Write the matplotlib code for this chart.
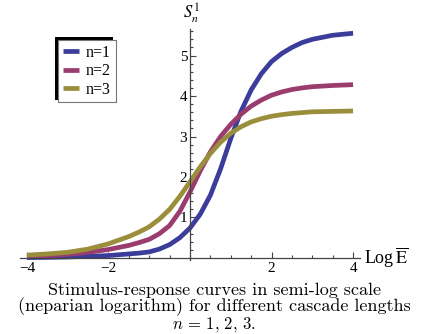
import matplotlib.pyplot as plt
from matplotlib.patches import Rectangle
from matplotlib.ticker import MultipleLocator

plt.rcParams['font.family'] = 'Liberation Serif'
plt.rcParams['mathtext.fontset'] = 'stix'

# log of stimulus (x) and response for cascade lengths n = 1, 2, 3
log_e = [-4, -3.5, -3, -2.5, -2, -1.5, -1.25, -1, -0.75, -0.5, -0.25, 0, 0.25, 0.5,
         0.75, 1, 1.25, 1.5, 1.75, 2, 2.25, 2.5, 2.75, 3, 3.5, 4]
s_n1 = [0.01, 0.015, 0.025, 0.04, 0.06, 0.1, 0.12, 0.15, 0.22, 0.33, 0.5, 0.74, 1.08,
        1.55, 2.2, 2.95, 3.62, 4.15, 4.55, 4.85, 5.05, 5.2, 5.32, 5.4, 5.5, 5.55]
s_n2 = [0.04, 0.06, 0.09, 0.14, 0.21, 0.31, 0.38, 0.46, 0.6, 0.8, 1.15, 1.63, 2.15,
        2.62, 3.0, 3.3, 3.55, 3.75, 3.9, 4.02, 4.1, 4.16, 4.2, 4.23, 4.26, 4.28]
s_n3 = [0.07, 0.1, 0.14, 0.22, 0.35, 0.53, 0.64, 0.77, 0.96, 1.2, 1.52, 1.88, 2.25,
        2.58, 2.86, 3.08, 3.24, 3.36, 3.44, 3.5, 3.54, 3.57, 3.59, 3.61, 3.62, 3.63]
labels = ['n=1', 'n=2', 'n=3']
colors = ['#3c3c9a', '#9a3c6e', '#9a8e3c']

W, H = 428, 334
fig = plt.figure(figsize=(W / 100, H / 100), dpi=100)
ax = fig.add_axes([20 / W, 1 - 260 / H, 340 / W, (260 - 29.2) / H])
ax.patch.set_visible(False)

for ys, lab, c in zip([s_n1, s_n2, s_n3], labels, colors):
    ax.plot(log_e, ys, color=c, lw=3.4, label=lab, solid_capstyle='butt',
            solid_joinstyle='round')

ax.set_xlim(-4.17, 4.17)
ax.set_ylim(-0.05, 5.65)
for s in ['top', 'right']:
    ax.spines[s].set_visible(False)
ax.spines['left'].set_position(('data', 0))
ax.spines['bottom'].set_position(('data', 0))
for s in ['left', 'bottom']:
    ax.spines[s].set_color('#444444')
    ax.spines[s].set_linewidth(0.9)

ax.set_xticks([-4, -2, 2, 4])
ax.set_xticklabels(['\u22124', '\u22122', '2', '4'])
ax.set_yticks([1, 2, 3, 4, 5])
ax.xaxis.set_minor_locator(MultipleLocator(0.5))
ax.yaxis.set_minor_locator(MultipleLocator(0.2))
ax.tick_params(which='both', direction='in', color='#444444', width=0.8)
ax.tick_params(which='major', length=4, labelsize=11)
ax.tick_params(which='minor', length=2.3)
ax.tick_params(axis='x', pad=3)
ax.tick_params(axis='y', pad=2)

fig.text(364 / W, 1 - 258 / H, r'Log$\,\overline{\mathrm{E}}$', ha='left', va='center', fontsize=13)
fig.text(183 / W, 1 - 18 / H, r'$S_n^1$', ha='left', va='baseline', fontsize=12)

leg = ax.legend(loc='upper left', bbox_to_anchor=(58 / W, 1 - 40 / H),
                bbox_transform=fig.transFigure, frameon=False,
                prop={'family': 'Liberation Serif', 'size': 11.5}, handlelength=1.0,
                handletextpad=0.45, labelspacing=0.15, borderpad=0.3, borderaxespad=0)
leg.set_zorder(6)

# legend box with a black shadow offset to the upper left
fig.canvas.draw()
bb = leg.get_window_extent().transformed(fig.transFigure.inverted())
dx, dy = 2.5 / W, 2.5 / H
shadow = Rectangle((bb.x0 - dx, bb.y0 + dy), bb.width, bb.height, transform=fig.transFigure,
                   facecolor='black', edgecolor='none', zorder=5.4, clip_on=False)
box = Rectangle((bb.x0, bb.y0), bb.width, bb.height, transform=fig.transFigure,
                facecolor='white', edgecolor='#777777', linewidth=0.8, zorder=5.5, clip_on=False)
ax.add_artist(shadow)
ax.add_artist(box)

cap_kw = dict(ha='center', va='center', fontsize=13, family='cmr10')
fig.text(0.5, 1 - 290 / H, 'Stimulus-response curves in semi-log scale', **cap_kw)
fig.text(0.5, 1 - 307 / H, '(neparian logarithm) for different cascade lengths', **cap_kw)
fig.text(0.5, 1 - 324 / H, r'$n\,=\,1,\,2,\,3.$', ha='center', va='center', fontsize=12,
         math_fontfamily='cm')

fig.savefig('out.png', dpi=100)
